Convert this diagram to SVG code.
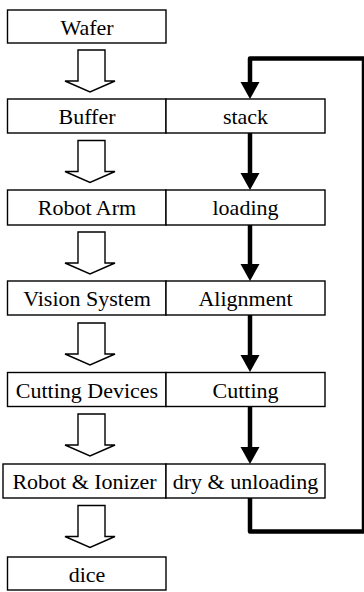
<svg xmlns="http://www.w3.org/2000/svg" width="364" height="592" viewBox="0 0 364 592">
  <style>
    .box { fill: #ffffff; stroke: #000000; stroke-width: 1.4; }
    .lbl { font-size: 22px; fill: #000000; text-anchor: middle; }
    .hollow { fill: #ffffff; stroke: #000000; stroke-width: 1.4; stroke-linejoin: miter; }
    .flow { fill: none; stroke: #000000; stroke-width: 4.5; stroke-linejoin: round; }
  </style>
  <defs>
    <!-- open block arrow between equipment boxes -->
    <polygon id="hollow-arrow" class="hollow" points="78,0 105,0 105,31 115,31 90,42 65,31 78,31"/>
  </defs>
  <rect width="364" height="592" fill="#ffffff"/>

  <!-- process-flow connectors on the right column -->
  <g id="connectors">
    <path class="flow" d="M250,498 V531.5 H364 V58.5 H250 V82" />
    <polygon points="240.5,82 259.5,82 250,99" fill="#000000"/>
    <line class="flow" x1="250" y1="133" x2="250" y2="174"/>
    <polygon points="240.5,173 259.5,173 250,190" fill="#000000"/>
    <line class="flow" x1="250" y1="225" x2="250" y2="265"/>
    <polygon points="240.5,264 259.5,264 250,281" fill="#000000"/>
    <line class="flow" x1="250" y1="315" x2="250" y2="356"/>
    <polygon points="240.5,355 259.5,355 250,372" fill="#000000"/>
    <line class="flow" x1="250" y1="406" x2="250" y2="448"/>
    <polygon points="240.5,447 259.5,447 250,464" fill="#000000"/>

    <!-- block arrows on the left column -->
    <use href="#hollow-arrow" transform="translate(0,50)"/>
    <use href="#hollow-arrow" transform="translate(0,140.5)"/>
    <use href="#hollow-arrow" transform="translate(0,232)"/>
    <use href="#hollow-arrow" transform="translate(0,323)"/>
    <use href="#hollow-arrow" transform="translate(0,414)"/>
    <use href="#hollow-arrow" transform="translate(0,505.5)"/>
  </g>

  <g font-family="Liberation Serif, Times New Roman, DejaVu Serif, serif">
    <g id="wafer">
      <rect class="box" x="7.5" y="10" width="158.5" height="33"/>
      <text class="lbl" x="87" y="35">Wafer</text>
    </g>

    <g id="buffer">
      <rect class="box" x="7.5" y="99" width="158.5" height="34"/>
      <text class="lbl" x="87" y="124">Buffer</text>
    </g>
    <g id="stack">
      <rect class="box" x="166" y="99" width="159" height="34"/>
      <text class="lbl" x="245.5" y="124">stack</text>
    </g>

    <g id="robot-arm">
      <rect class="box" x="7.5" y="190" width="158.5" height="35"/>
      <text class="lbl" x="87" y="215">Robot Arm</text>
    </g>
    <g id="loading">
      <rect class="box" x="166" y="190" width="159" height="35"/>
      <text class="lbl" x="245.5" y="215">loading</text>
    </g>

    <g id="vision-system">
      <rect class="box" x="7.5" y="281" width="158.5" height="34"/>
      <text class="lbl" x="87" y="306">Vision System</text>
    </g>
    <g id="alignment">
      <rect class="box" x="166" y="281" width="159" height="34"/>
      <text class="lbl" x="245.5" y="306">Alignment</text>
    </g>

    <g id="cutting-devices">
      <rect class="box" x="7.5" y="372.5" width="158.5" height="34"/>
      <text class="lbl" x="87" y="397.5">Cutting Devices</text>
    </g>
    <g id="cutting">
      <rect class="box" x="166" y="372.5" width="159" height="34"/>
      <text class="lbl" x="245.5" y="397.5">Cutting</text>
    </g>

    <g id="robot-ionizer">
      <rect class="box" x="3" y="464" width="163" height="34"/>
      <text class="lbl" x="84.5" y="489">Robot &amp; Ionizer</text>
    </g>
    <g id="dry-unloading">
      <rect class="box" x="166" y="464" width="159" height="34"/>
      <text class="lbl" x="245.5" y="489">dry &amp; unloading</text>
    </g>

    <g id="dice">
      <rect class="box" x="7.5" y="557" width="158.5" height="33"/>
      <text class="lbl" x="87" y="582">dice</text>
    </g>
  </g>
</svg>
